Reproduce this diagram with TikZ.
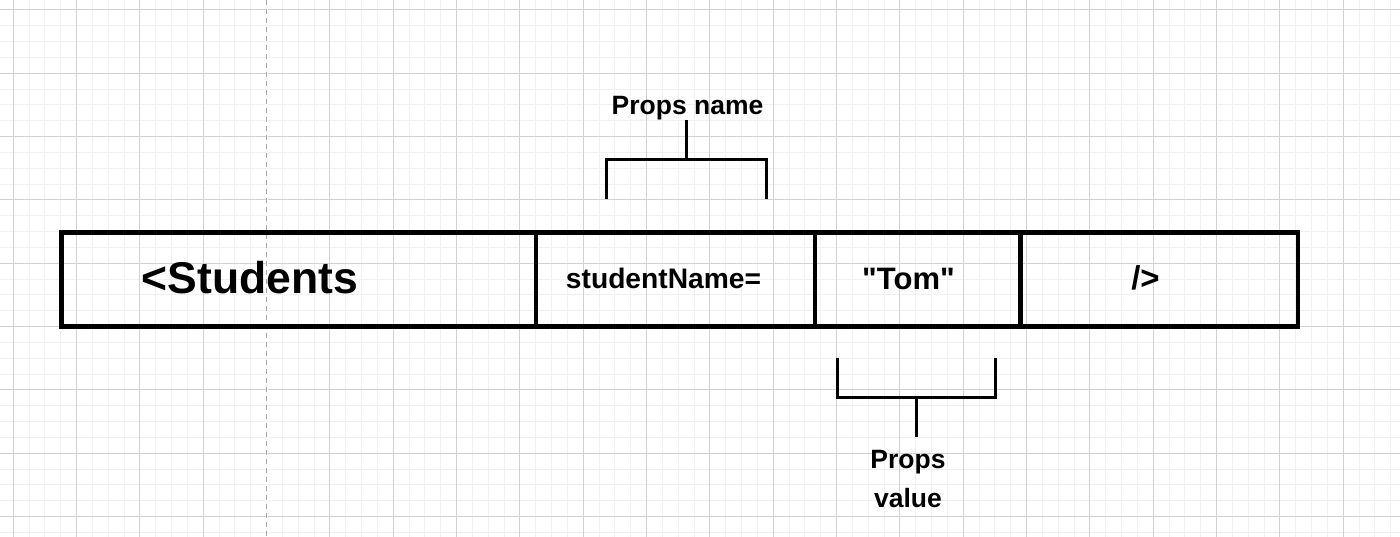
\documentclass[tikz,border=0pt]{standalone}
\usepackage{fontspec}
\setmainfont{Liberation Sans}
\newfontfamily\plainsans{Liberation Sans}
\begin{document}
\begin{tikzpicture}[x=1pt,y=-1pt,
  minorgrid/.style={draw=black!6,line width=1pt},
  majorgrid/.style={draw=black!18,line width=1pt},
  cell/.style={draw=black,line width=4.5pt,rectangle,inner sep=0pt,minimum height=94pt},
  lbl/.style={inner sep=0pt,font=\bfseries\fontsize{26.5}{38}\selectfont,align=center},
  brk/.style={draw=black,line width=3pt}]
\useasboundingbox (0,0) rectangle (1400,537);
\fill[white] (0,0) rectangle (1400,537);
% grid
\foreach \i in {0,...,88} {
  \draw[minorgrid] ({13.33+15.833*\i-15.833},0) -- ({13.33+15.833*\i-15.833},537);
}
\foreach \i in {0,...,34} {
  \draw[minorgrid] (0,{10+15.833*\i}) -- (1400,{10+15.833*\i});
}
\foreach \i in {0,...,22} {
  \draw[majorgrid] ({13.33+63.33*\i},0) -- ({13.33+63.33*\i},537);
}
\foreach \i in {0,...,8} {
  \draw[majorgrid] (0,{10+63.33*\i}) -- (1400,{10+63.33*\i});
}
\fill[white] (265.5,0) rectangle (268,537);
\draw[draw=black!35,line width=1.2pt,dash pattern=on 5pt off 4pt] (266.7,0) -- (266.7,537);
% cells
\node[cell,minimum width=474.5pt] (c1) at (298.75,279.5) {};
\node[cell,minimum width=279pt] (c2) at (675.5,279.5) {};
\node[cell,minimum width=205.5pt] (c3) at (917.75,279.5) {};
\node[cell,minimum width=277.5pt] (c4) at (1159.25,279.5) {};
% texts
\node[inner sep=0pt,anchor=base,font=\bfseries\fontsize{44.5}{50}\selectfont] (t1) at (250,294) {<Students};
\node[inner sep=0pt,anchor=base,font=\bfseries\fontsize{28.2}{32}\selectfont] (t2) at (663.5,289) {studentName=};
\node[inner sep=0pt,anchor=base,font=\plainsans\bfseries\fontsize{31}{36}\selectfont] (t3) at (908.5,290) {"Tom"};
\node[inner sep=0pt,anchor=base,font=\bfseries\fontsize{33}{36}\selectfont] (t4) at (1145.5,290) {/>};
% top bracket
\node[lbl,anchor=base] (pn) at (687.5,115) {Props name};
\coordinate (pnstem) at (686.7,120.5);
\draw[brk] (606.7,199) -- (606.7,159.3) -- (766.7,159.3) -- (766.7,199);
\draw[brk] (686.7,159.3) -- (pnstem);
% bottom bracket
\coordinate (pvstem) at (916.3,436.7);
\draw[brk] (837.3,357.7) -- (837.3,397.7) -- (995.7,397.7) -- (995.7,357.7);
\draw[brk] (916.3,397.7) -- (pvstem);
\node[lbl,anchor=base] (pv1) at (908,468.5) {Props};
\node[lbl,anchor=base] (pv2) at (908,507) {value};
\end{tikzpicture}
\end{document}
